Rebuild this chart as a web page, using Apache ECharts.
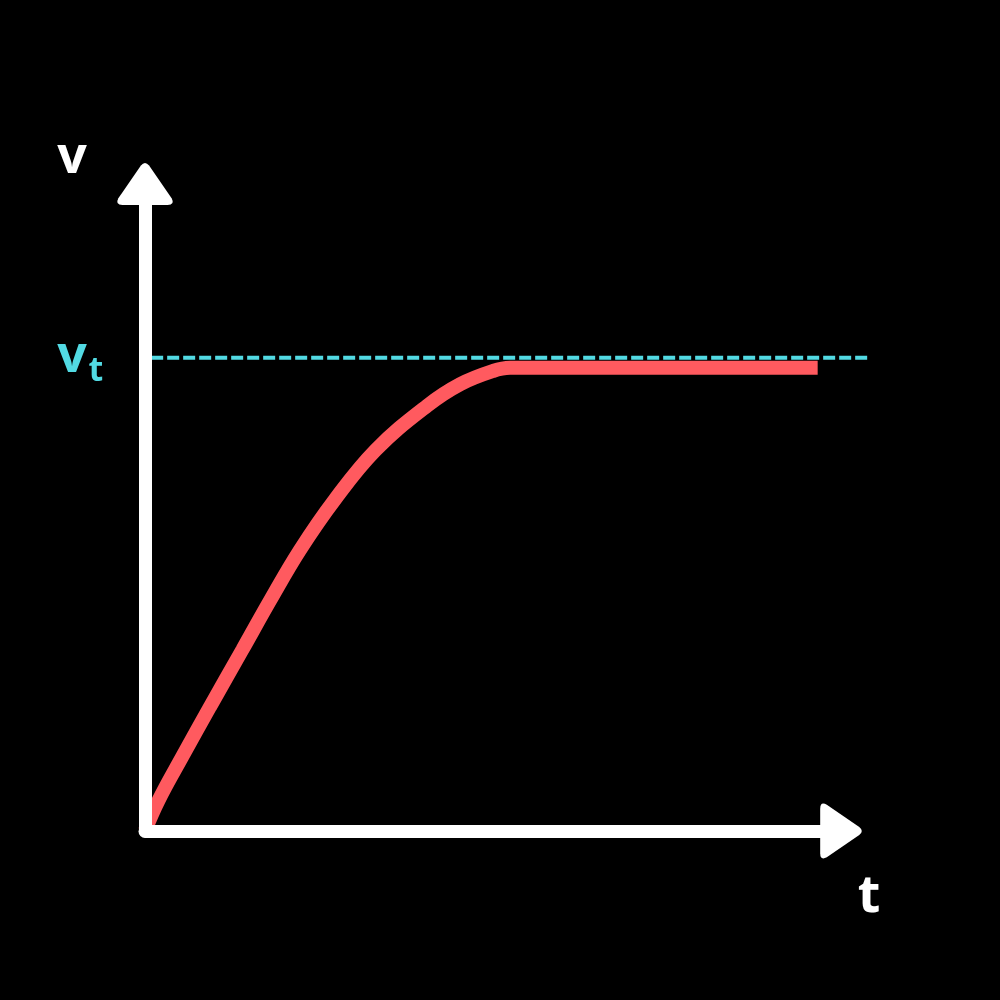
<!DOCTYPE html>
<html>
<head>
<meta charset="utf-8">
<script src="https://cdn.jsdelivr.net/npm/echarts@6/dist/echarts.min.js"></script>
<style>html,body{margin:0;padding:0;background:#000;}#c{width:1000px;height:1000px;}</style>
</head>
<body>
<div id="c"></div>
<script>
// velocity vs time (arbitrary units)
const tValues = [0, 2.0, 5.4, 9.5, 14.2, 18.3, 22.6, 27.7, 33.7, 41.2, 46.0, 50.8, 53.3, 98.2];
const vValues = [0, 4.9, 11.7, 19.7, 28.7, 36.6, 44.5, 52.5, 60.4, 67.4, 70.8, 72.9, 73.4, 73.4];
const terminalV = 75;
const terminalT = [0.9, 105.5];
const axisLabels = { x: 't', y: 'v', terminal: 'v', terminalSub: 't' };

const RED = '#ff5a5f';
const CYAN = '#52dae3';
const arrowPath = 'path://M23.5 3.5Q27.5 -1.5 31.5 3.5L53.5 35.5Q57 42 49.5 42L5.5 42Q-2 42 1.5 35.5Z';

const chart = echarts.init(document.getElementById('c'), null, { renderer: 'canvas' });
const curve = tValues.map((t, i) => [t, vValues[i]]);
const hiddenAxis = { show: false, axisLine: { show: false }, axisTick: { show: false }, axisLabel: { show: false }, splitLine: { show: false } };

chart.setOption({
  backgroundColor: '#000',
  animation: false,
  grid: [
    { left: 145, right: 170, top: 200, bottom: 169, containLabel: false },
    { left: 145, right: 132, top: 200, bottom: 169, containLabel: false }
  ],
  xAxis: [{
    type: 'value', min: 0, max: 100, z: 5, gridIndex: 0,
    axisLine: {
      show: true, onZero: true,
      lineStyle: { color: '#fff', width: 13, cap: 'round' },
      symbol: ['none', arrowPath], symbolSize: [55, 42], symbolOffset: [0, 11]
    },
    axisTick: { show: false }, axisLabel: { show: false }, splitLine: { show: false }
  }, Object.assign({ type: 'value', min: 0, max: 105.5, gridIndex: 1 }, hiddenAxis)],
  yAxis: [{
    type: 'value', min: 0, max: 100, z: 5, gridIndex: 0,
    axisLine: {
      show: true,
      lineStyle: { color: '#fff', width: 13, cap: 'round' },
      symbol: ['none', arrowPath], symbolSize: [56, 42], symbolOffset: [0, 16]
    },
    axisTick: { show: false }, axisLabel: { show: false }, splitLine: { show: false }
  }, Object.assign({ type: 'value', min: 0, max: 100, gridIndex: 1 }, hiddenAxis)],
  graphic: [
    { type: 'text', x: 72, y: 158, z: 10, style: { text: axisLabels.y, fill: '#fff', font: 'bold 52px "Open Sans"', align: 'center', verticalAlign: 'middle' } },
    { type: 'text', x: 869, y: 897, z: 10, style: { text: axisLabels.x, fill: '#fff', font: 'bold 52px "Open Sans"', align: 'center', verticalAlign: 'middle' } },
    { type: 'text', x: 72, y: 357, z: 10, style: { text: axisLabels.terminal, fill: CYAN, font: 'bold 52px "Open Sans"', align: 'center', verticalAlign: 'middle' } },
    { type: 'text', x: 96, y: 371, z: 10, style: { text: axisLabels.terminalSub, fill: CYAN, font: 'bold 34px "Open Sans"', align: 'center', verticalAlign: 'middle' } }
  ],
  series: [
    {
      type: 'line', data: curve, z: 1, smooth: 0.4, xAxisIndex: 0, yAxisIndex: 0,
      showSymbol: false, silent: true,
      lineStyle: { color: RED, width: 14, cap: 'butt' }
    },
    {
      type: 'line', data: [[terminalT[0], terminalV], [terminalT[1], terminalV]], z: 2,
      xAxisIndex: 1, yAxisIndex: 1,
      showSymbol: false, silent: true, clip: false,
      lineStyle: { color: CYAN, width: 4, type: [12, 4] }
    }
  ]
});
</script>
</body>
</html>
